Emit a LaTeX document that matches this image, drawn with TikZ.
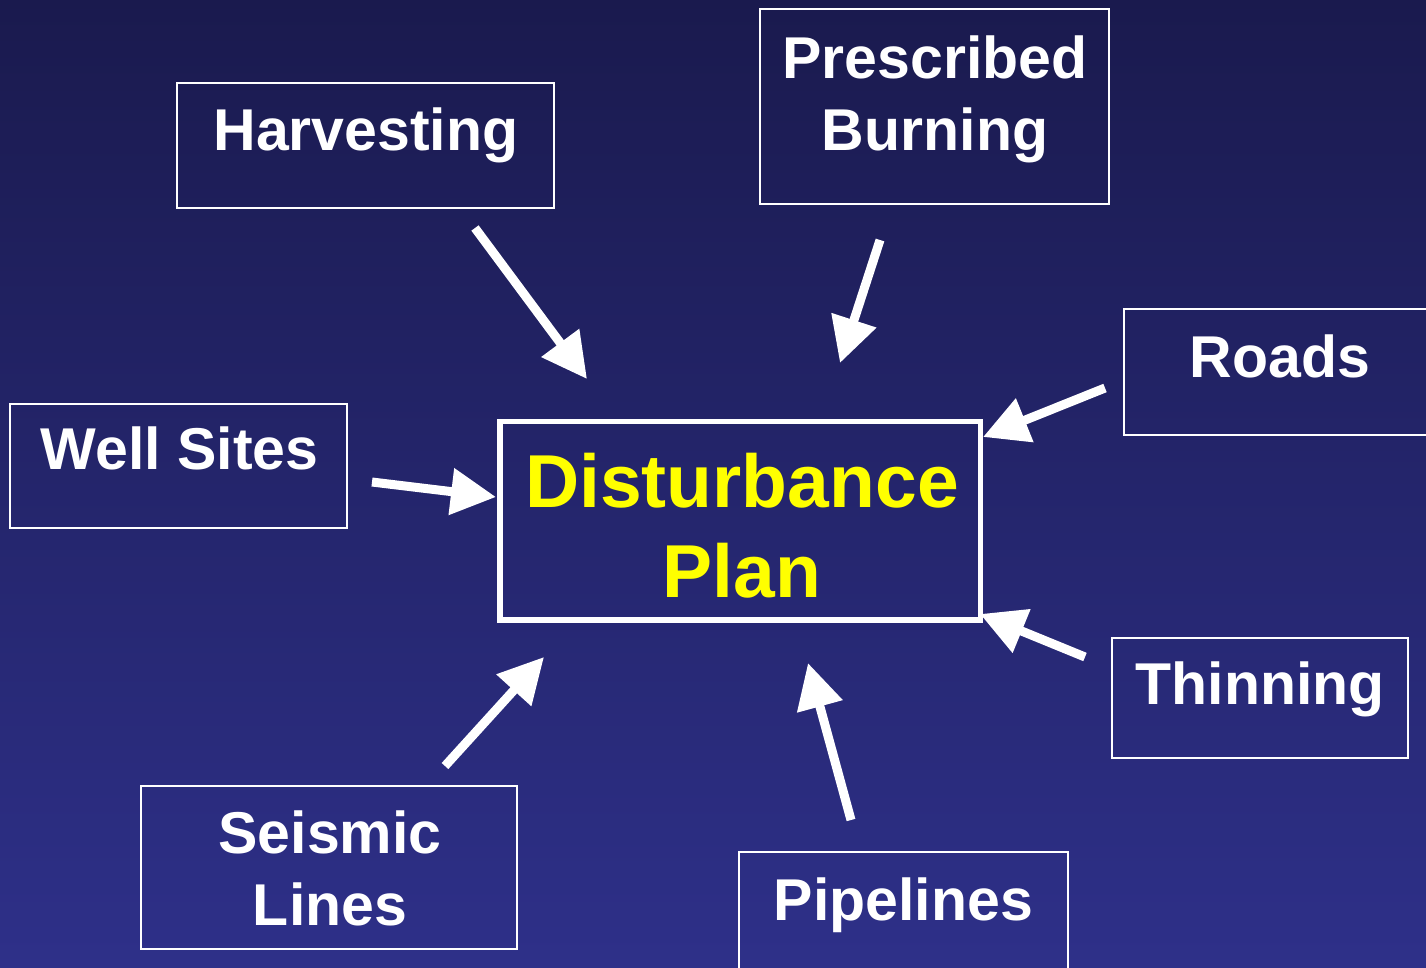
\documentclass[tikz,border=0pt]{standalone}
\usepackage{fontspec}
\setmainfont{Liberation Sans}
\usetikzlibrary{arrows.meta}
\definecolor{bgtop}{RGB}{26,26,78}
\definecolor{bgbot}{RGB}{46,48,137}
\definecolor{planyellow}{RGB}{255,255,0}
\begin{document}
\begin{tikzpicture}[x=1pt,y=-1pt,
  box/.style={draw=white,line width=1.6pt,inner sep=0pt},
  planbox/.style={draw=white,line width=5.5pt,inner sep=0pt},
  lbl/.style={text=white,font=\fontsize{59}{72}\selectfont\bfseries,inner sep=0pt,align=center,anchor=base},
  plbl/.style={text=planyellow,font=\fontsize{75}{90}\selectfont\bfseries,inner sep=0pt,align=center,anchor=base},
  arr/.style={white,line width=9pt,-{Triangle[length=45pt,width=45pt]}}]
\shade[top color=bgtop,bottom color=bgbot] (0,0) rectangle (1426,967);
\useasboundingbox (0,0) rectangle (1426,967);

% boxes
\node[box,minimum width=377pt,minimum height=125pt] (harv) at (365.5,145.5) {};
\node[box,minimum width=349pt,minimum height=195pt] (presc) at (934.5,106.5) {};
\node[box,minimum width=316pt,minimum height=126pt] (roads) at (1282,372) {};
\node[box,minimum width=337pt,minimum height=124pt] (well) at (178.5,466) {};
\node[box,minimum width=296pt,minimum height=120pt] (thin) at (1260,698) {};
\node[box,minimum width=376pt,minimum height=163pt] (seis) at (329,867.5) {};
\node[box,minimum width=329pt,minimum height=138pt] (pipe) at (903.5,921) {};
\node[planbox,minimum width=480.5pt,minimum height=198.5pt] (plan) at (740.25,520.75) {};

% labels (multi-line: base = last line's baseline)
\node[lbl] (harvT) at (366,150) {Harvesting};
\node[lbl] (prescT) at (935,150) {Prescribed\\Burning};
\node[lbl] (roadsT) at (1280,377) {Roads};
\node[lbl] (wellT) at (179.5,469) {Well Sites};
\node[lbl] (thinT) at (1260,704) {Thinning};
\node[lbl] (seisT) at (330,925) {Seismic\\Lines};
\node[lbl] (pipeT) at (903.5,920) {Pipelines};
\node[plbl] (planT) at (742,597) {Disturbance\\Plan};

% arrow end points
\coordinate (harvS) at (475,228);  \coordinate (harvE) at (587,379);
\coordinate (prescS) at (880,240); \coordinate (prescE) at (840,363);
\coordinate (roadsS) at (1105,388); \coordinate (roadsE) at (983,437);
\coordinate (wellS) at (372,482);  \coordinate (wellE) at (496,497);
\coordinate (thinS) at (1085,657); \coordinate (thinE) at (980,614);
\coordinate (pipeS) at (851,820);  \coordinate (pipeE) at (808,663);
\coordinate (seisS) at (445,766);  \coordinate (seisE) at (544,657);

\draw[arr] (harvS) -- (harvE);
\draw[arr] (prescS) -- (prescE);
\draw[arr] (roadsS) -- (roadsE);
\draw[arr] (wellS) -- (wellE);
\draw[arr] (thinS) -- (thinE);
\draw[arr] (pipeS) -- (pipeE);
\draw[arr] (seisS) -- (seisE);
\end{tikzpicture}
\end{document}
